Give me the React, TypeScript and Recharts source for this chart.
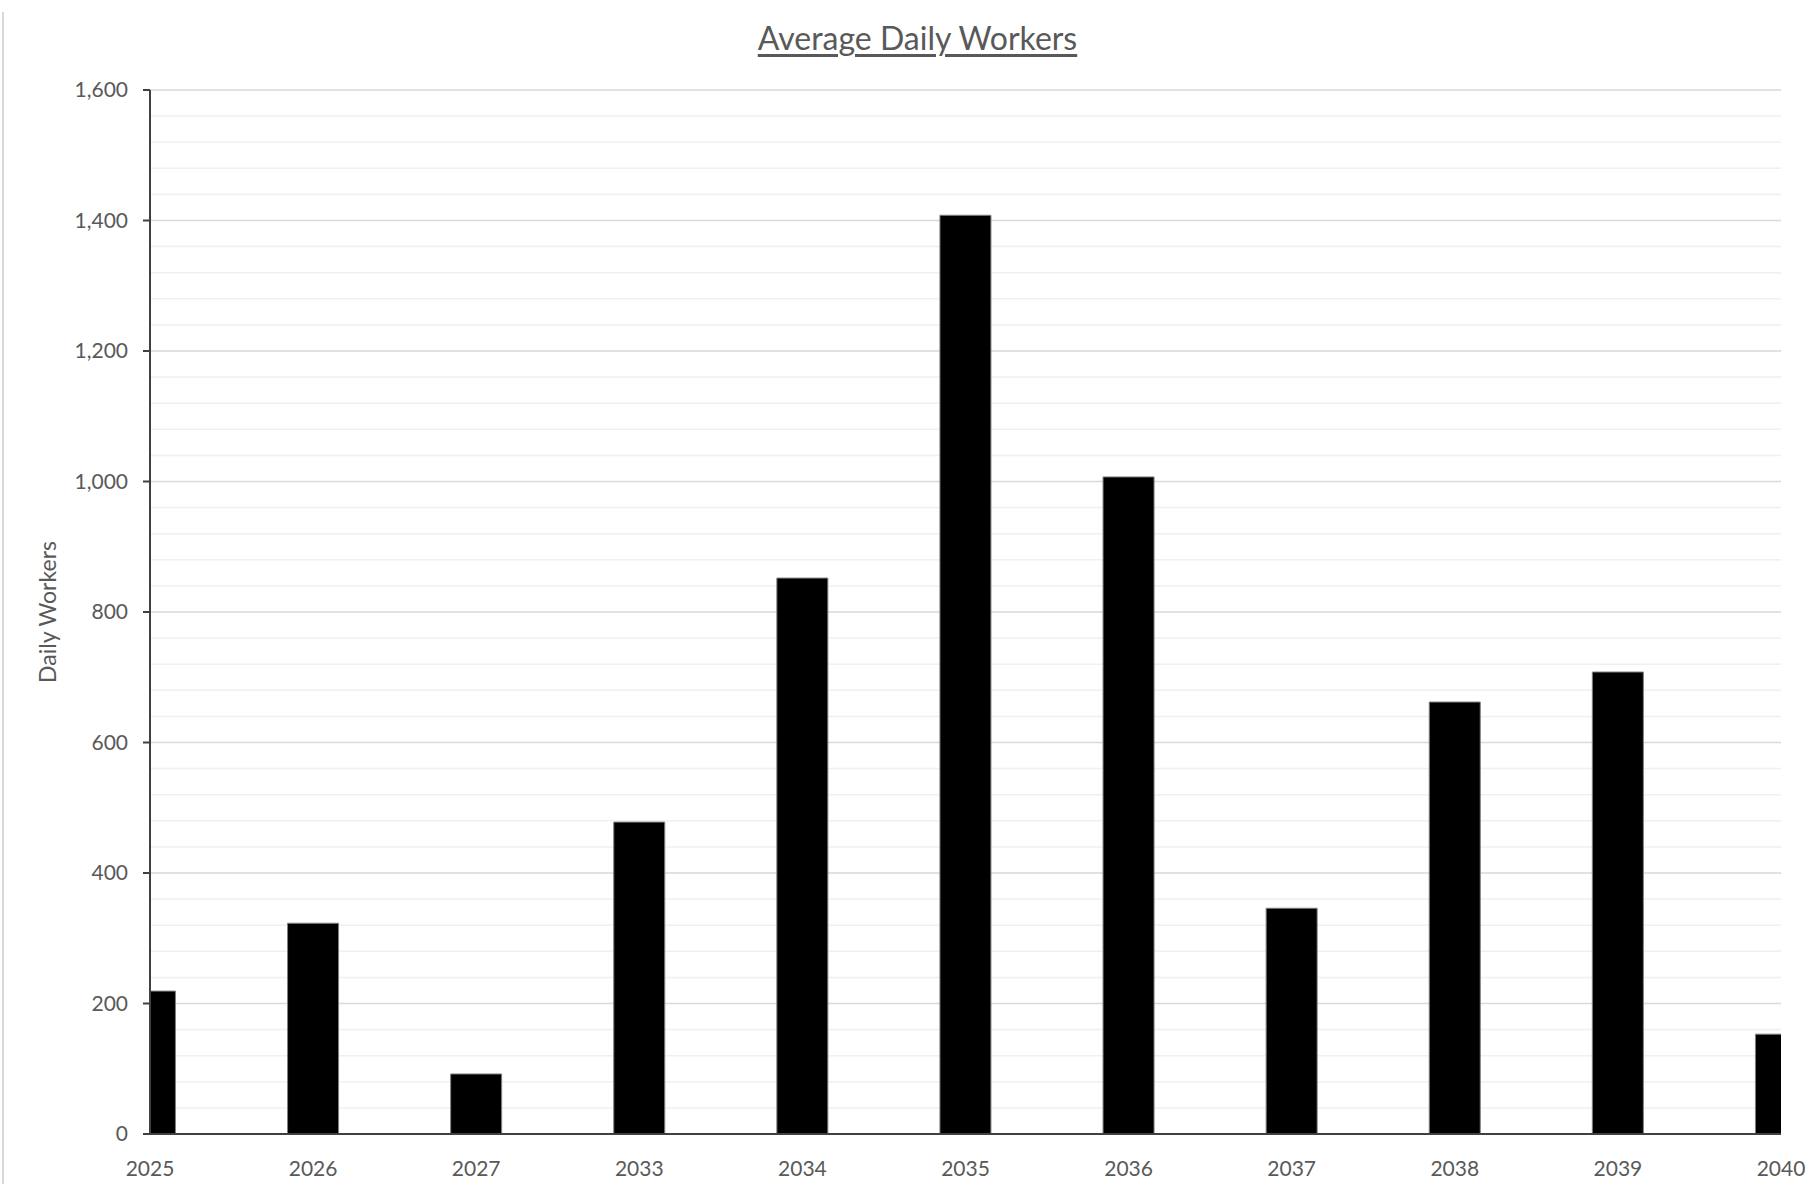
import React from "react";
import {
  BarChart,
  Bar,
  XAxis,
  YAxis,
  CartesianGrid,
} from "recharts";

const years = ["2025", "2026", "2027", "2033", "2034", "2035", "2036", "2037", "2038", "2039", "2040"];
const workers = [219, 323, 92, 478, 852, 1408, 1007, 346, 662, 708, 153];
const majorTicks = [0, 200, 400, 600, 800, 1000, 1200, 1400, 1600];
const minorTicks = [
  0, 40, 80, 120, 160, 200, 240, 280, 320, 360, 400, 440, 480, 520, 560, 600, 640, 680, 720, 760, 800,
  840, 880, 920, 960, 1000, 1040, 1080, 1120, 1160, 1200, 1240, 1280, 1320, 1360, 1400, 1440, 1480,
  1520, 1560, 1600,
];

const data = years.map((year, i) => ({ idx: i, year, workers: workers[i] }));
const xTicks = years.map((_, i) => i);
const minorOnly = minorTicks.filter((v) => v % 200 !== 0);

const textGray = "#595959";
const axisGray = "#404040";
const font = "Lato, 'Open Sans', sans-serif";

export default function App() {
  return (
    <div
      style={{
        position: "absolute",
        left: 0,
        top: 0,
        width: 1807,
        height: 1188,
        background: "#fff",
        fontFamily: font,
        overflow: "hidden",
      }}
    >
      {/* chart frame edge */}
      <div
        style={{
          position: "absolute",
          left: 2,
          top: 12,
          width: 0,
          height: 1172,
          borderLeft: "2px solid #d9d9d9",
        }}
      />
      <div
        style={{
          position: "absolute",
          left: 0,
          width: 1807,
          top: 18,
          textAlign: "center",
          paddingLeft: 28,
          boxSizing: "border-box",
        }}
      >
        <span
          style={{
            fontSize: 32,
            color: textGray,
            textDecoration: "underline",
            textUnderlineOffset: 4,
          }}
        >
          Average Daily Workers
        </span>
      </div>
      <BarChart
        width={1807}
        height={1188}
        data={data}
        margin={{ top: 90, right: 26, bottom: 14, left: 0 }}
      >
        <CartesianGrid vertical={false} horizontalValues={minorOnly} stroke="#f0f0f0" strokeWidth={1.5} />
        <CartesianGrid vertical={false} stroke="#d9d9d9" strokeWidth={1.5} />
        <XAxis
          dataKey="idx"
          type="number"
          domain={[0, 10]}
          ticks={xTicks}
          tickFormatter={(i: number) => years[i]}
          allowDataOverflow
          interval={0}
          height={40}
          tickLine={false}
          tickSize={0}
          tickMargin={27}
          axisLine={{ stroke: axisGray, strokeWidth: 2 }}
          tick={{ fill: textGray, fontSize: 21, fontFamily: font }}
        />
        <YAxis
          domain={[0, 1600]}
          ticks={majorTicks}
          interval={0}
          width={150}
          tickSize={7}
          tickMargin={15}
          tickFormatter={(v: number) => v.toLocaleString("en-US")}
          tick={{ fill: textGray, fontSize: 21, fontFamily: font }}
          tickLine={{ stroke: axisGray, strokeWidth: 2 }}
          axisLine={{ stroke: axisGray, strokeWidth: 2 }}
          label={{
            value: "Daily Workers",
            angle: -90,
            position: "insideLeft",
            offset: 48,
            style: { textAnchor: "middle", fill: textGray, fontSize: 23, fontFamily: font },
          }}
        />
        <YAxis
          yAxisId="minor"
          orientation="left"
          mirror
          domain={[0, 1600]}
          ticks={minorTicks}
          interval={0}
          width={0}
          tick={false}
          tickSize={6}
          axisLine={false}
          tickLine={{ stroke: axisGray, strokeWidth: 2 }}
        />
        <Bar
          dataKey="workers"
          fill="#000"
          stroke="#7f7f7f"
          strokeWidth={1}
          barSize={51}
          isAnimationActive={false}
        />
      </BarChart>
    </div>
  );
}
